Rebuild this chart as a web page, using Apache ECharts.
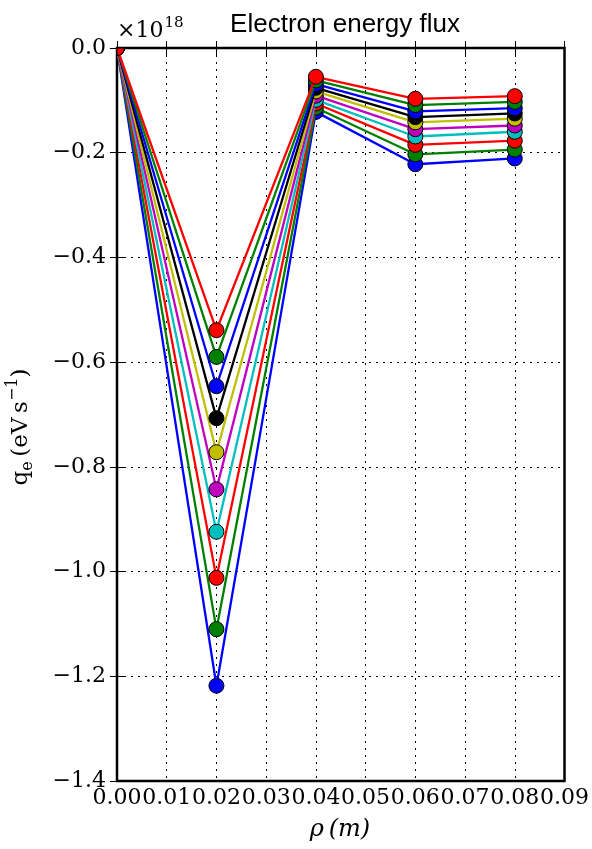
<!DOCTYPE html>
<html><head><meta charset="utf-8">
<script src="https://cdn.jsdelivr.net/npm/echarts@6/dist/echarts.min.js"></script>
<style>html,body{margin:0;padding:0;background:#fff}#c{width:592px;height:849px}</style>
</head><body><div id="c"></div>
<script>
const xValues = [0.0, 0.02, 0.04, 0.06, 0.08];
const s1 = [0, -1.218, -0.122, -0.222, -0.211];
const s2 = [0, -1.110, -0.114, -0.203, -0.194];
const s3 = [0, -1.012, -0.106, -0.185, -0.177];
const s4 = [0, -0.924, -0.099, -0.169, -0.160];
const s5 = [0, -0.843, -0.091, -0.155, -0.148];
const s6 = [0, -0.772, -0.083, -0.142, -0.135];
const s7 = [0, -0.707, -0.076, -0.132, -0.125];
const s8 = [0, -0.646, -0.069, -0.121, -0.115];
const s9 = [0, -0.590, -0.062, -0.109, -0.103];
const s10 = [0, -0.539, -0.055, -0.097, -0.092];
const seriesValues = [s1, s2, s3, s4, s5, s6, s7, s8, s9, s10];
const seriesColors = ['#0000ff','#008000','#ff0000','#00bfbf','#bf00bf','#bfbf00','#000000','#0000ff','#008000','#ff0000'];
const xTickLabels = ['0.00','0.01','0.02','0.03','0.04','0.05','0.06','0.07','0.08','0.09'];
const yTickLabels = {'0':'0.0','-0.2':'\u22120.2','-0.4':'\u22120.4','-0.6':'\u22120.6','-0.8':'\u22120.8','-1':'\u22121.0','-1.2':'\u22121.2','-1.4':'\u22121.4'};
const titleText = 'Electron energy flux';

const serif = '"DejaVu Serif", "Liberation Serif", serif';
const chart = echarts.init(document.getElementById('c'), null, {renderer:'canvas'});
const gridLeft = 117, gridTop = 48, gridW = 448, gridH = 733;

const mctx = document.createElement('canvas').getContext('2d');
function tw(text, font){ mctx.font = font; return mctx.measureText(text).width; }

function xLabel(v){ const i = Math.round(v/0.01); return xTickLabels[i] ?? ''; }
function yLabel(v){ const k = String(Math.round(v*10)/10); return yTickLabels[k] ?? ''; }

// clipped marker at origin (quarter circle inside the frame)
const quarter = 'path://M0,0 L10,0 A10,10 0 0,1 0,10 Z';
const series = seriesValues.map((vals, i) => ({
  type: 'line',
  data: vals.map((v, j) => j === 0
    ? {value: [xValues[j], v], symbol: quarter, symbolSize: [7.5, 7.5], symbolOffset: [3.75, 3.75], symbolKeepAspect: true}
    : [xValues[j], v]),
  symbol: 'circle',
  symbolSize: 15,
  color: seriesColors[i],
  lineStyle: {width: 2.3, color: seriesColors[i]},
  itemStyle: {color: seriesColors[i], borderColor: '#000', borderWidth: 1},
  emphasis: {disabled: true},
  clip: true,
  z: 3 + i,
  animation: false
}));

const splitDotted = {show: true, lineStyle: {color: '#000', width: 1, type: [2, 5]}};

// "x10^18" pieces
const f1 = '22px ' + serif, f2 = '15px ' + serif;
const w1 = tw('\u00d710', f1);
// y label pieces: [text, fontPx, baseline shift (negative = up)]
const yl = [['q', 23, 0], ['e', 16, 5], ['\u2009(eV\u2009s', 23, 0], ['\u22121', 16, -10], [')', 23, 0]];
let ylw = 0; const ylx = [];
yl.forEach(p => { ylx.push(ylw); ylw += tw(p[0], p[1] + 'px ' + serif); });
const ylChildren = yl.map((p, i) => ({
  type: 'text', x: ylx[i] - ylw/2, y: p[2] - 0.36*p[1],
  style: {text: p[0], font: p[1] + 'px ' + serif, fill: '#000', verticalAlign: 'middle', align: 'left'}
}));

chart.setOption({
  animation: false,
  grid: {left: gridLeft, top: gridTop, width: gridW, height: gridH, show: true, borderColor: '#000', borderWidth: 2.5, backgroundColor: 'transparent'},
  xAxis: [
    {type: 'value', min: 0, max: 0.09, interval: 0.01, position: 'bottom',
     axisLine: {show: false}, axisTick: {show: true, inside: true, length: 7, lineStyle: {color: '#000', width: 1}},
     axisLabel: {formatter: xLabel, color: '#000', fontFamily: serif, fontSize: 22, margin: 6, showMinLabel: true, showMaxLabel: true, hideOverlap: false},
     splitLine: splitDotted},
    {type: 'value', min: 0, max: 0.09, interval: 0.01, position: 'top',
     axisLine: {show: false}, axisTick: {show: true, inside: true, length: 7, lineStyle: {color: '#000', width: 1}},
     axisLabel: {show: false}, splitLine: {show: false}}
  ],
  yAxis: [
    {type: 'value', min: -1.4, max: 0, interval: 0.2, position: 'left',
     axisLine: {show: false}, axisTick: {show: true, inside: true, length: 7, lineStyle: {color: '#000', width: 1}},
     axisLabel: {formatter: yLabel, color: '#000', fontFamily: serif, fontSize: 22, margin: 11, showMinLabel: true, showMaxLabel: true},
     splitLine: splitDotted},
    {type: 'value', min: -1.4, max: 0, interval: 0.2, position: 'right',
     axisLine: {show: false}, axisTick: {show: true, inside: true, length: 7, lineStyle: {color: '#000', width: 1}},
     axisLabel: {show: false}, splitLine: {show: false}}
  ],
  title: {text: titleText, left: 340, top: 7, textAlign: 'center',
    textStyle: {fontFamily: '"Liberation Sans", Arial, sans-serif', fontWeight: 'normal', fontSize: 26, color: '#000'}},
  graphic: [
    {type: 'text', x: 117, y: 31, style: {text: '\u00d710', font: f1, fill: '#000', verticalAlign: 'middle'}},
    {type: 'text', x: 117 + w1 + 1, y: 23, style: {text: '18', font: f2, fill: '#000', verticalAlign: 'middle'}},
    {type: 'group', x: 29, y: 427, rotation: Math.PI/2, children: ylChildren},
    {type: 'text', x: 340, y: 830, style: {text: '\u03c1\u2009(m)', font: 'italic 24px ' + serif, fill: '#000', align: 'center', verticalAlign: 'middle'}}
  ],
  series: series
});
</script></body></html>
